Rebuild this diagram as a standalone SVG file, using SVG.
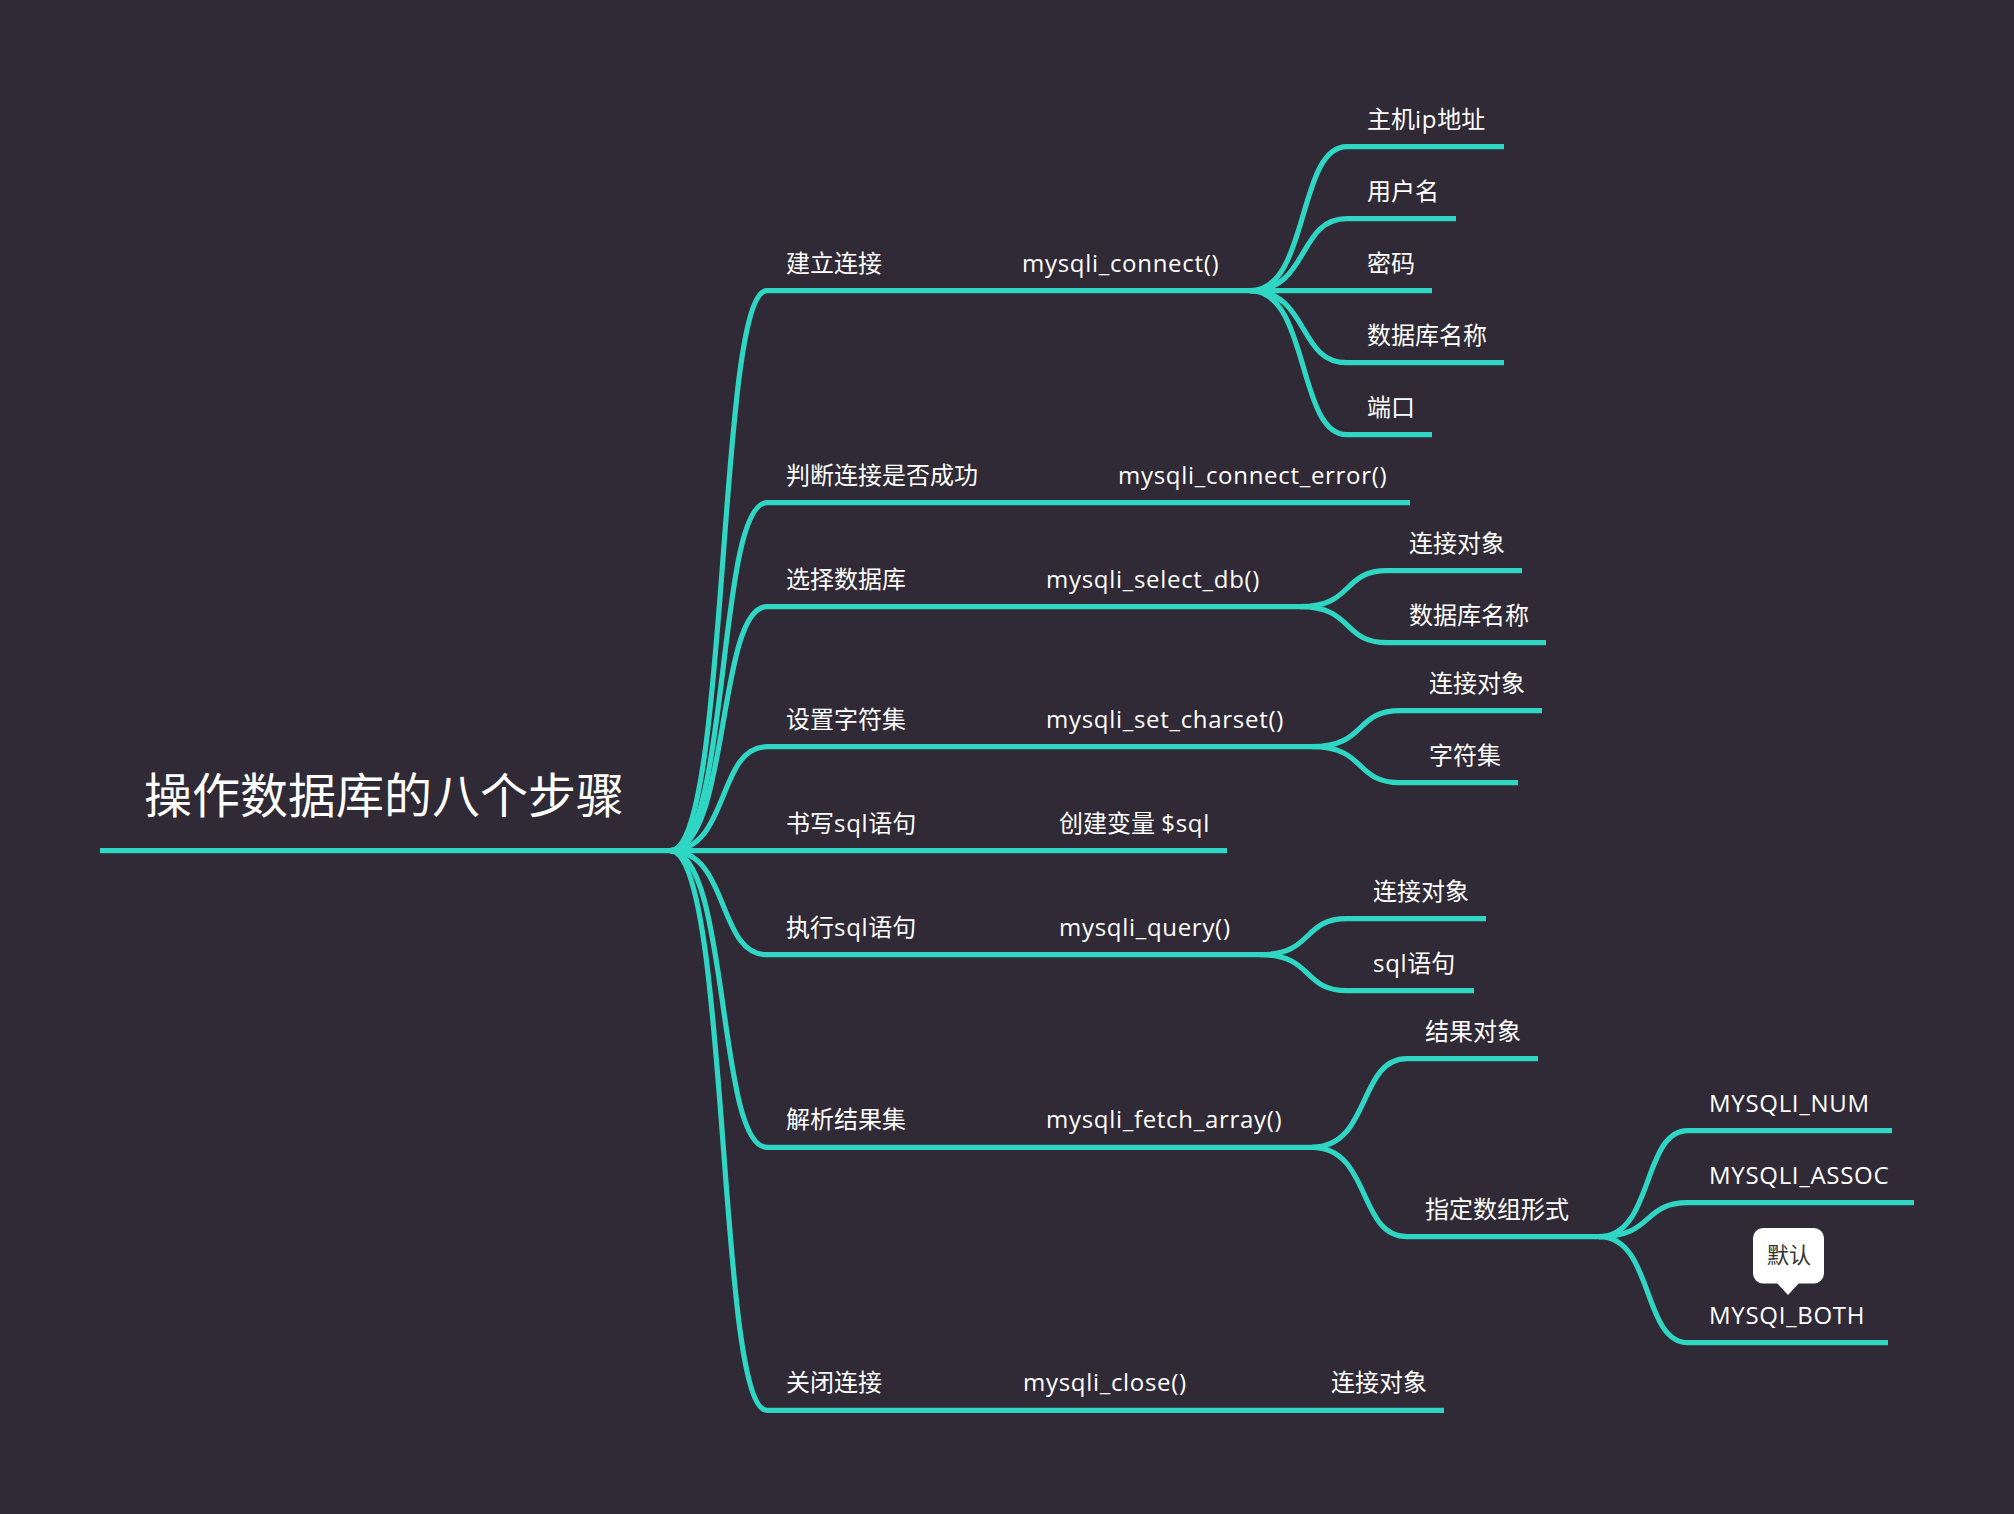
<svg xmlns="http://www.w3.org/2000/svg" width="2014" height="1514" viewBox="0 0 2014 1514">
<style>
.bg{fill:#2f2a35}
.c{fill:none;stroke:#30d6c4;stroke-width:5.2;stroke-linecap:butt}
text{fill:#ffffff;font-family:"Open Sans","Noto Sans CJK SC",sans-serif;font-size:24px}
.lat{letter-spacing:0.7px}
.title{font-family:"Noto Sans CJK SC",sans-serif;font-size:48px}
.note{fill:#333333;font-family:"Noto Sans CJK SC",sans-serif;font-size:22px}
</style>
<rect class="bg" x="0" y="0" width="2014" height="1514"/>
<g id="connectors">
<path class="c" d="M100,850.7 H1227"/>
<path class="c" d="M670,850.7 C730,850.7 716.6,290.7 767,290.7 H1250"/>
<path class="c" d="M670,850.7 C730,850.7 716.6,502.7 767,502.7 H1410"/>
<path class="c" d="M670,850.7 C730,850.7 716.6,606.7 767,606.7 H1300"/>
<path class="c" d="M670,850.7 C730,850.7 716.6,746.7 767,746.7 H1312"/>
<path class="c" d="M670,850.7 C730,850.7 716.6,954.7 767,954.7 H1260"/>
<path class="c" d="M670,850.7 C730,850.7 716.6,1147.3 767,1147.3 H1312"/>
<path class="c" d="M670,850.7 C730,850.7 716.6,1410.3 767,1410.3 H1444"/>
<path class="c" d="M1250,290.7 C1310,290.7 1296.6,146.7 1347,146.7 H1504"/>
<path class="c" d="M1250,290.7 C1310,290.7 1296.6,218.7 1347,218.7 H1456"/>
<path class="c" d="M1250,290.7 H1432"/>
<path class="c" d="M1250,290.7 C1310,290.7 1296.6,362.7 1347,362.7 H1504"/>
<path class="c" d="M1250,290.7 C1310,290.7 1296.6,434.7 1347,434.7 H1432"/>
<path class="c" d="M1300,606.7 C1354,606.7 1341.8,570.7 1387,570.7 H1522"/>
<path class="c" d="M1300,606.7 C1354,606.7 1341.8,642.7 1387,642.7 H1546"/>
<path class="c" d="M1312,746.7 C1366.6,746.7 1354.2,710.7 1400,710.7 H1542"/>
<path class="c" d="M1312,746.7 C1366.6,746.7 1354.2,782.7 1400,782.7 H1518"/>
<path class="c" d="M1260,954.7 C1314,954.7 1301.8,918.7 1347,918.7 H1486"/>
<path class="c" d="M1260,954.7 C1314,954.7 1301.8,990.7 1347,990.7 H1474"/>
<path class="c" d="M1312,1147.3 C1371,1147.3 1357.6,1058.7 1407,1058.7 H1538"/>
<path class="c" d="M1312,1147.3 C1371,1147.3 1357.6,1236.7 1407,1236.7 H1599"/>
<path class="c" d="M1599,1236.7 C1654,1236.7 1641.7,1130.7 1688,1130.7 H1892"/>
<path class="c" d="M1599,1236.7 C1654,1236.7 1641.7,1202.7 1688,1202.7 H1914"/>
<path class="c" d="M1599,1236.7 C1654,1236.7 1641.7,1342.7 1688,1342.7 H1888"/>
</g>
<g id="root"><text class="title" x="144" y="813">操作数据库的八个步骤</text></g>
<g id="n1"><text x="786" y="272">建立连接</text></g>
<g id="n1-1"><text class="lat" x="1022" y="272">mysqli_connect()</text></g>
<g id="n1-1-1"><text x="1367" y="128">主机<tspan class="lat">ip</tspan>地址</text></g>
<g id="n1-1-2"><text x="1367" y="200">用户名</text></g>
<g id="n1-1-3"><text x="1367" y="272">密码</text></g>
<g id="n1-1-4"><text x="1367" y="344">数据库名称</text></g>
<g id="n1-1-5"><text x="1367" y="416">端口</text></g>
<g id="n2"><text x="786" y="484">判断连接是否成功</text></g>
<g id="n2-1"><text class="lat" x="1118" y="484">mysqli_connect_error()</text></g>
<g id="n3"><text x="786" y="588">选择数据库</text></g>
<g id="n3-1"><text class="lat" x="1046" y="588">mysqli_select_db()</text></g>
<g id="n3-1-1"><text x="1409" y="552">连接对象</text></g>
<g id="n3-1-2"><text x="1409" y="624">数据库名称</text></g>
<g id="n4"><text x="786" y="728">设置字符集</text></g>
<g id="n4-1"><text class="lat" x="1046" y="728">mysqli_set_charset()</text></g>
<g id="n4-1-1"><text x="1429" y="692">连接对象</text></g>
<g id="n4-1-2"><text x="1429" y="764">字符集</text></g>
<g id="n5"><text x="786" y="832">书写<tspan class="lat">sql</tspan>语句</text></g>
<g id="n5-1"><text x="1059" y="832">创建变量 <tspan class="lat">$sql</tspan></text></g>
<g id="n6"><text x="786" y="936">执行<tspan class="lat">sql</tspan>语句</text></g>
<g id="n6-1"><text class="lat" x="1059" y="936">mysqli_query()</text></g>
<g id="n6-1-1"><text x="1373" y="900">连接对象</text></g>
<g id="n6-1-2"><text x="1373" y="972"><tspan class="lat">sql</tspan>语句</text></g>
<g id="n7"><text x="786" y="1128">解析结果集</text></g>
<g id="n7-1"><text class="lat" x="1046" y="1128">mysqli_fetch_array()</text></g>
<g id="n7-1-1"><text x="1425" y="1040">结果对象</text></g>
<g id="n7-1-2"><text x="1425" y="1218">指定数组形式</text></g>
<g id="n7-1-2-1"><text class="lat" x="1709" y="1112">MYSQLI_NUM</text></g>
<g id="n7-1-2-2"><text class="lat" x="1709" y="1184">MYSQLI_ASSOC</text></g>
<g id="n7-1-2-3"><text class="lat" x="1709" y="1324">MYSQI_BOTH</text></g>
<g id="callout">
<rect x="1753" y="1228" width="71" height="55.5" rx="10" ry="10" fill="#ffffff"/>
<path d="M1776,1282 L1800,1282 L1788,1295 Z" fill="#ffffff"/>
<text class="note" x="1789" y="1263" text-anchor="middle">默认</text>
</g>
<g id="n8"><text x="786" y="1391">关闭连接</text></g>
<g id="n8-1"><text class="lat" x="1023" y="1391">mysqli_close()</text></g>
<g id="n8-1-1"><text x="1331" y="1391">连接对象</text></g>
</svg>
